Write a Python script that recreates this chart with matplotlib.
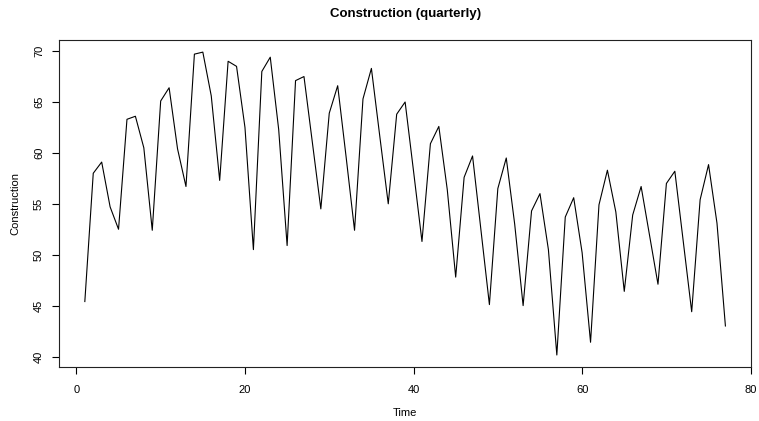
import numpy as np
import matplotlib
matplotlib.use("Agg")
import matplotlib.pyplot as plt

# quarterly construction series
quarter = np.arange(1, 78)
construction = [
    45.4, 58.0, 59.1, 54.7, 52.5, 63.3, 63.6, 60.5, 52.4, 65.1,
    66.4, 60.4, 56.7, 69.7, 69.9, 65.6, 57.3, 69.0, 68.5, 62.5,
    50.5, 68.0, 69.4, 62.3, 50.9, 67.1, 67.5, 61.0, 54.5, 63.9,
    66.6, 59.6, 52.4, 65.3, 68.3, 61.6, 55.0, 63.8, 65.0, 58.2,
    51.3, 60.9, 62.6, 56.4, 47.8, 57.6, 59.7, 52.4, 45.1, 56.5,
    59.5, 53.0, 45.0, 54.3, 56.0, 50.5, 40.15, 53.7, 55.6, 50.2,
    41.4, 54.9, 58.3, 54.2, 46.4, 53.9, 56.7, 51.9, 47.1, 57.0,
    58.2, 51.3, 44.4, 55.4, 58.85, 53.1, 43.0,
]
x_ticks = [0, 20, 40, 60, 80]
y_ticks = [40, 45, 50, 55, 60, 65, 70]

plt.rcParams['font.family'] = ['Liberation Sans', 'DejaVu Sans']

fig = plt.figure(figsize=(7.59, 4.21), dpi=100)
ax = fig.add_axes([0.078, 0.128, 0.9115, 0.777])

ax.plot(quarter, construction, color='black', linewidth=0.8)

# R style 4% axis extension
def r_lim(v):
    lo, hi = min(v), max(v)
    pad = 0.04 * (hi - lo)
    return lo - pad, hi + pad

ax.set_xlim(*r_lim(quarter))
ax.set_ylim(*r_lim(construction))

ax.set_xticks(x_ticks)
ax.set_yticks(y_ticks)
ax.tick_params(direction='out', length=5, width=0.8, labelsize=8, pad=6)
ax.tick_params(axis='x', pad=8)
for lab in ax.get_yticklabels():
    lab.set_rotation(90)
    lab.set_va('center')

for s in ax.spines.values():
    s.set_linewidth(0.8)
    s.set_color('#222222')

ax.set_title('Construction (quarterly)', fontsize=9.5, fontweight='bold', pad=16.5)
ax.set_xlabel('Time', fontsize=8, labelpad=9)
ax.set_ylabel('Construction', fontsize=8, labelpad=10)

fig.savefig('out.png', dpi=100)
